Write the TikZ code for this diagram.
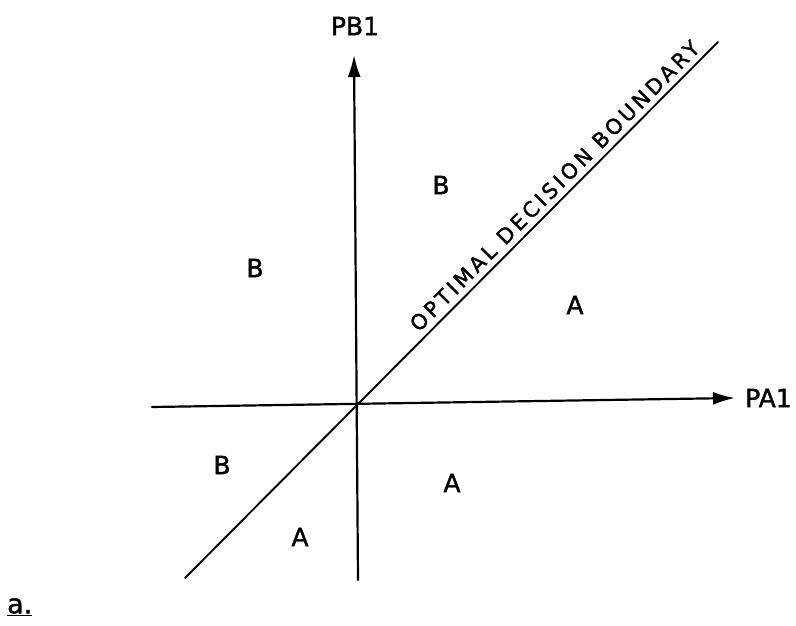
\documentclass[tikz,border=0pt]{standalone}
\usepackage{fontspec}
\setmainfont{DejaVu Sans}[FakeBold=1.5]
\usetikzlibrary{arrows.meta}
\begin{document}
\begin{tikzpicture}[x=1pt,y=-1pt,
  axisline/.style={line width=2.2pt,line cap=round},
  bline/.style={line width=1.9pt,line cap=round},
  tip/.style={-{Latex[length=22pt,width=13pt]}},
  lbl/.style={font=\fontsize{25}{27}\selectfont,inner sep=0pt},
  blbl/.style={font=\fontsize{21}{23}\selectfont\addfontfeature{LetterSpace=16},inner sep=0pt}]
\useasboundingbox (0,0) rectangle (796,626);
\coordinate (O) at (357,404);
\coordinate (xl) at (152,407);
\coordinate (xr) at (735,398);
\coordinate (yb) at (358,580);
\coordinate (yt) at (354,55);
\coordinate (dl) at (185,578);
\coordinate (du) at (718,42);
\draw[axisline,tip] (xl) -- (xr);
\draw[axisline,tip] (yb) -- (yt);
\draw[bline] (dl) -- (du);
\path (O) -- (du) node[pos=0.575,sloped,above=6pt,blbl] (bnd) {OPTIMAL DECISION BOUNDARY};
\node[lbl] (pb) at (355,26) {PB1};
\node[lbl,anchor=west] (pa) at (745,398) {PA1};
\node[lbl] (b1) at (255,268) {B};
\node[lbl] (b2) at (441,185) {B};
\node[lbl] (a1) at (575,305) {A};
\node[lbl] (b3) at (222,465) {B};
\node[lbl] (a2) at (452,483) {A};
\node[lbl] (a3) at (300,537) {A};
\node[lbl,anchor=west,font=\fontsize{27}{29}\selectfont] (lab) at (7,607) {\underline{a.}};
\end{tikzpicture}
\end{document}
